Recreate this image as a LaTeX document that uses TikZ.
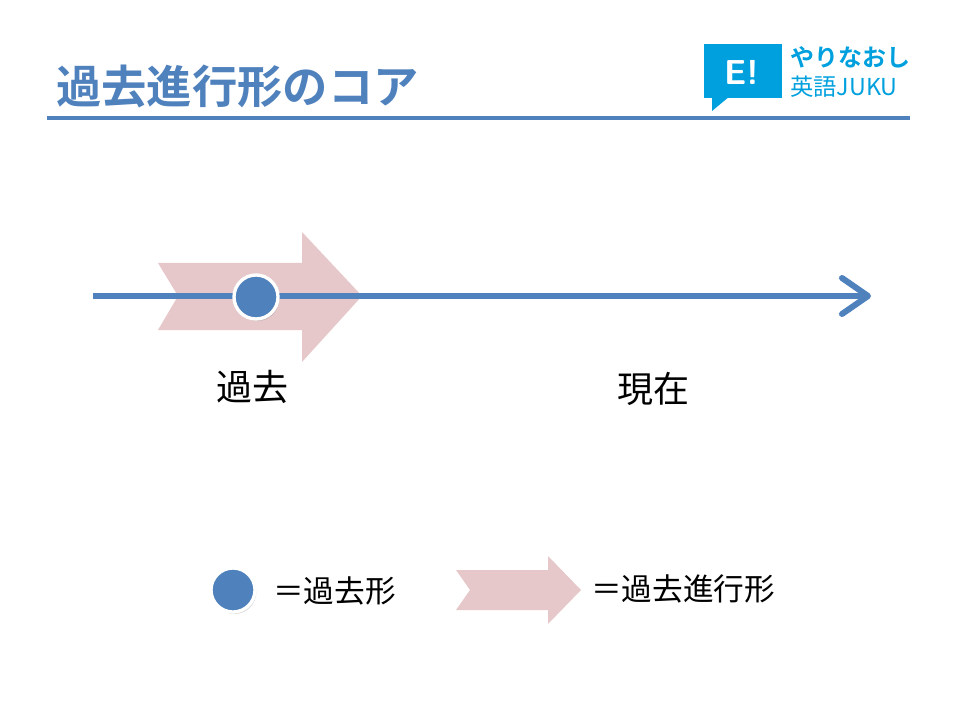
\documentclass[tikz,border=0pt]{standalone}
\usepackage{fontspec}
\setmainfont{Noto Sans CJK JP}
\newfontfamily\cjkb{Noto Sans CJK JP Bold}
\usetikzlibrary{shadows}
\definecolor{mblue}{RGB}{79,129,189}
\definecolor{pinkarr}{RGB}{230,200,202}
\definecolor{logoc}{RGB}{0,160,222}
\begin{document}
\begin{tikzpicture}[x=0.75pt,y=-0.75pt,
  lbl/.style={inner sep=0pt,font=\fontsize{27}{30}\selectfont},
  leg/.style={inner sep=0pt,font=\fontsize{23}{26}\selectfont},
  dot/.style={circle,fill=mblue,draw=white,line width=2.5pt,minimum size=33pt,inner sep=0pt,drop shadow={opacity=0.35,shadow xshift=1pt,shadow yshift=-1.5pt}}]
\useasboundingbox (0,0) rectangle (960,720);
% title
\node[anchor=west,inner sep=0pt,text=mblue,font=\cjkb\fontsize{34}{36}\selectfont] (title) at (56,87) {過去進行形のコア};
\draw[mblue,line width=3.5pt] (47,118) coordinate (ul1) -- (910,118) coordinate (ul2);
% logo
\fill[logoc] (704,44) rectangle (782,98);
\fill[logoc] (712,96) -- (712,111) -- (730,96) -- cycle;
\node[text=white,font=\sffamily\bfseries\fontsize{26}{28}\selectfont,inner sep=0pt] (E) at (742,72) {E!};
\node[anchor=west,text=logoc,inner sep=0pt,font=\cjkb\fontsize{18}{20}\selectfont] (l1) at (790,57) {やりなおし};
\node[anchor=west,text=logoc,inner sep=0pt,font=\fontsize{17.5}{20}\selectfont] (l2) at (790,87) {英語JUKU};
% big pink arrow
\fill[pinkarr] (158,263) -- (302,263) -- (302,232) -- (362,296) -- (302,362) -- (302,330) -- (158,330) -- (178,296) -- cycle;
% axis
\coordinate (a0) at (93,296);
\coordinate (a1) at (868,296);
\draw[mblue,line width=4.5pt] (a0) -- (a1);
\draw[mblue,line width=4.5pt,line cap=round,line join=round] (842,278) -- (a1) -- (842,314);
\node[dot] (d1) at (256,297) {};
\node[lbl] (p) at (252,387) {過去};
\node[lbl] (n) at (653,389) {現在};
% legend
\node[dot] (d2) at (233,590) {};
\node[leg,anchor=west] (t1) at (273,591) {＝過去形};
\fill[pinkarr] (456,570) -- (548,570) -- (548,556) -- (581,590) -- (548,624) -- (548,610) -- (456,610) -- (470,590) -- cycle;
\node[leg,anchor=west] (t2) at (591,589) {＝過去進行形};
\end{tikzpicture}
\end{document}
